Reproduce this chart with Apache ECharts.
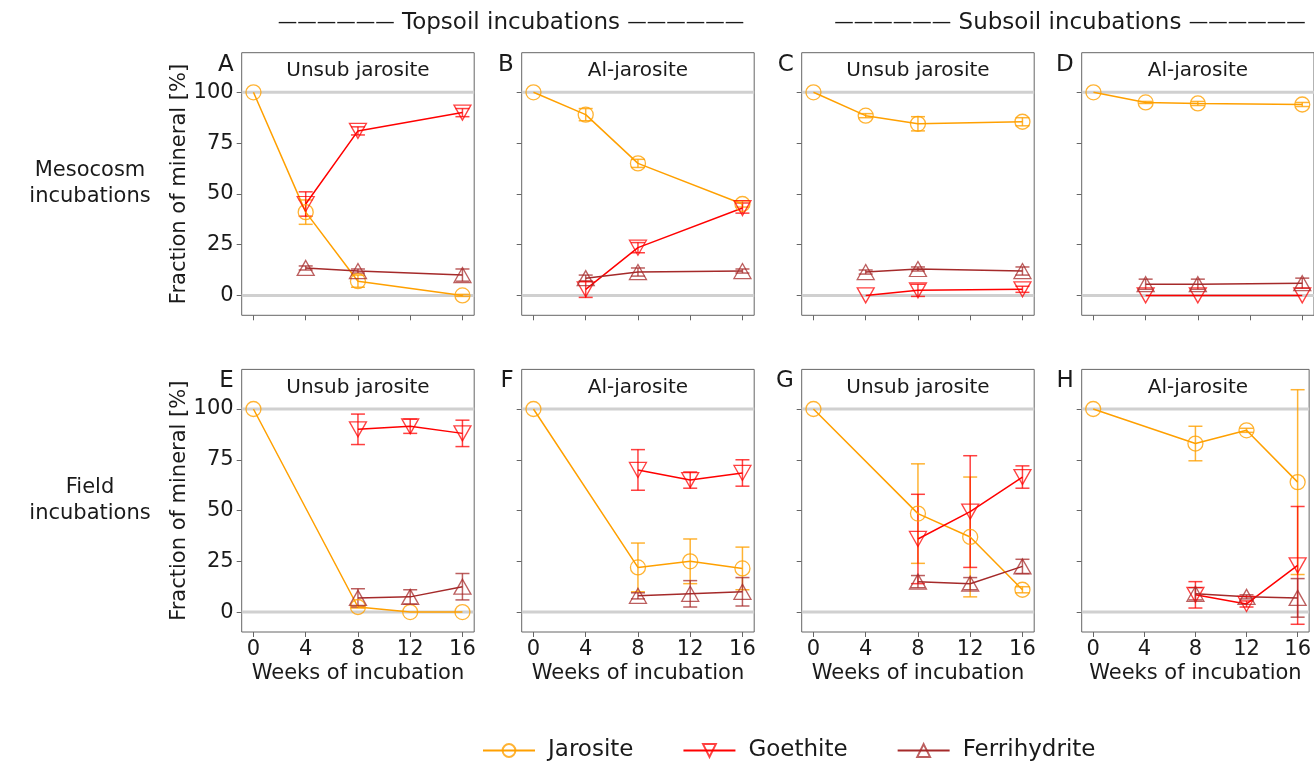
<!DOCTYPE html>
<html>
<head>
<meta charset="utf-8">
<script src="https://cdn.jsdelivr.net/npm/echarts@6/dist/echarts.min.js"></script>
<style>
html,body{margin:0;padding:0;background:#fff;}
#chart{width:1314px;height:761px;}
</style>
</head>
<body>
<div id="chart"></div>
<script>
// ---------------- DATA ----------------
const weeksMesocosm = [0, 4, 8, 16];
const weeksField = [0, 8, 12, 16];
const xTickLabels = [0, 4, 8, 12, 16];
const yTickLabels = [0, 25, 50, 75, 100];
const panelLetters = ['A', 'B', 'C', 'D', 'E', 'F', 'G', 'H'];
const panelTitles = ['Unsub jarosite', 'Al-jarosite', 'Unsub jarosite', 'Al-jarosite',
                     'Unsub jarosite', 'Al-jarosite', 'Unsub jarosite', 'Al-jarosite'];
const mineralNames = ['Jarosite', 'Goethite', 'Ferrihydrite'];
const headerLabels = ['Topsoil incubations', 'Subsoil incubations'];
const headerDashes = '——————';
const rowLabels = ['Mesocosm\nincubations', 'Field\nincubations'];

// one row per panel (A..H), values aligned with the weeks of that row
const jarositeMean = [
  [100, 41, 7, 0], [100, 89, 65, 45], [100, 88.5, 84.5, 85.5], [100, 95, 94.5, 94],
  [100, 2.5, 0, 0], [100, 22, 25, 21.5], [100, 48.5, 37, 11], [100, 83, 89.5, 64]
];
const jarositeErr = [
  [0, 6, 3, 0.5], [0, 3, 2, 1.5], [0, 1, 3.5, 2], [0, 0.5, 1, 1],
  [0, 0.5, 0, 0], [0, 12, 11, 10.5], [0, 24.5, 29.5, 1.5], [0, 8.5, 1, 45.5]
];
const goethiteMean = [
  [null, 45, 81, 90], [null, 3, 23.5, 43], [null, 0, 2.5, 3], [null, 0, 0, 0],
  [null, 90, 91.5, 88], [null, 70, 65, 68.5], [null, 36, 49.5, 66.5], [null, 8.5, 4, 23]
];
const goethiteErr = [
  [null, 6, 2, 2], [null, 4, 2.5, 2.5], [null, 0, 3, 1.5], [null, 0, 0, 0],
  [null, 7.5, 3.5, 6.5], [null, 10, 4, 6.5], [null, 22, 27.5, 5.5], [null, 6.5, 1.5, 29]
];
const ferrihydriteMean = [
  [null, 13.5, 12, 10], [null, 8.5, 11.5, 12], [null, 11.5, 13, 12], [null, 5.5, 5.5, 6],
  [null, 7, 7.5, 12.5], [null, 8, 9, 10], [null, 15, 14, 22.5], [null, 9, 7.5, 7]
];
const ferrihydriteErr = [
  [null, 1, 1, 3], [null, 1.5, 2, 1], [null, 1, 1, 2], [null, 2.5, 2.5, 2.5],
  [null, 4.5, 3.5, 6.5], [null, 1.5, 6.5, 7], [null, 3, 3, 3.5], [null, 3, 1, 9.5]
];
const referenceLevels = [0, 100];

// ---------------- LAYOUT / STYLE ----------------
const FONT = 'DejaVu Sans';
const colLeft = [241.7, 521.7, 801.7, 1081.7];
const rowTop = [52.7, 369.4];
const W = 232.5, H = 262.6;
const mineralStyle = [
  {line: '#ffa000', mark: 'rgba(255,160,0,0.8)', symbol: 'circle', size: 15, rot: 0},
  {line: '#ff0000', mark: 'rgba(255,0,0,0.75)', symbol: 'triangle', size: [17, 15], rot: 180},
  {line: '#a52a2a', mark: 'rgba(165,42,42,0.75)', symbol: 'triangle', size: [17, 15], rot: 0}
];
const means = [jarositeMean, goethiteMean, ferrihydriteMean];
const errs = [jarositeErr, goethiteErr, ferrihydriteErr];

const grids = [], xAxes = [], yAxes = [], series = [], graphics = [];

for (let p = 0; p < 8; p++) {
  const row = Math.floor(p / 4), col = p % 4;
  const weeks = row === 0 ? weeksMesocosm : weeksField;
  const left = colLeft[col], top = rowTop[row];
  grids.push({left: left, top: top, width: W, height: H, show: true,
    borderColor: '#666', borderWidth: 1, backgroundColor: 'transparent', containLabel: false});
  xAxes.push({
    type: 'value', gridIndex: p, min: -0.9, max: 16.9,
    axisLine: {show: false, onZero: false},
    axisTick: {show: true, length: 5, lineStyle: {color: '#666'}, customValues: xTickLabels},
    axisLabel: {show: row === 1, customValues: xTickLabels, fontFamily: FONT, fontSize: 21, color: '#1a1a1a', margin: 7},
    splitLine: {show: false},
    name: row === 1 ? 'Weeks of incubation' : '', nameLocation: 'middle', nameGap: 31,
    nameTextStyle: {fontFamily: FONT, fontSize: 21, color: '#1a1a1a'}
  });
  yAxes.push({
    type: 'value', gridIndex: p, min: -9.8, max: 119.5,
    axisLine: {show: false, onZero: false},
    axisTick: {show: true, length: 5, lineStyle: {color: '#666'}, customValues: yTickLabels},
    axisLabel: {show: col === 0, customValues: yTickLabels, fontFamily: FONT, fontSize: 21, color: '#1a1a1a', margin: 8},
    splitLine: {show: false},
    name: col === 0 ? 'Fraction of mineral [%]' : '', nameLocation: 'middle', nameGap: 51,
    nameTextStyle: {fontFamily: FONT, fontSize: 21, color: '#1a1a1a'}
  });

  // grey reference lines at 0 and 100
  series.push({
    type: 'custom', xAxisIndex: p, yAxisIndex: p, z: 1, silent: true,
    data: referenceLevels.map(v => [0, v]),
    renderItem: function (params, api) {
      const cs = params.coordSys;
      const y = api.coord([0, api.value(1)])[1];
      return {type: 'line', shape: {x1: cs.x, y1: y, x2: cs.x + cs.width, y2: y},
        style: {stroke: '#d0d0d0', lineWidth: 3}};
    }
  });

  for (let m = 0; m < 3; m++) {
    const st = mineralStyle[m];
    const mv = means[m][p], ev = errs[m][p];
    const pts = [], eb = [];
    weeks.forEach((w, i) => {
      if (mv[i] === null) return;
      pts.push([w, mv[i]]);
      if (ev[i] > 0) eb.push([w, mv[i], ev[i]]);
    });
    series.push({
      type: 'line', name: mineralNames[m], xAxisIndex: p, yAxisIndex: p, z: 3,
      data: pts, symbol: st.symbol, symbolSize: st.size, symbolRotate: st.rot,
      showAllSymbol: true, animation: false,
      lineStyle: {color: st.line, width: 1.5},
      itemStyle: {color: 'rgba(0,0,0,0)', borderColor: st.mark, borderWidth: 1.3},
      emphasis: {disabled: true}
    });
    series.push({
      type: 'custom', xAxisIndex: p, yAxisIndex: p, z: 3, silent: true,
      data: eb,
      renderItem: (function (color) {
        return function (params, api) {
          const x = api.value(0), v = api.value(1), e = api.value(2);
          const a = api.coord([x, v + e]), b = api.coord([x, v - e]);
          const c = 7;
          const s = {stroke: color, lineWidth: 1.5};
          return {type: 'group', children: [
            {type: 'line', shape: {x1: a[0], y1: a[1], x2: b[0], y2: b[1]}, style: s},
            {type: 'line', shape: {x1: a[0] - c, y1: a[1], x2: a[0] + c, y2: a[1]}, style: s},
            {type: 'line', shape: {x1: b[0] - c, y1: b[1], x2: b[0] + c, y2: b[1]}, style: s}
          ]};
        };
      })(st.mark)
    });
  }

  // panel title and letter
  graphics.push({type: 'text', x: left + W / 2, y: top + 18,
    style: {text: panelTitles[p], fontFamily: FONT, fontSize: 20, fill: '#1a1a1a', align: 'center', verticalAlign: 'middle'}});
  graphics.push({type: 'text', x: left - 8, y: top + 12,
    style: {text: panelLetters[p], fontFamily: FONT, fontSize: 23, fill: '#1a1a1a', align: 'right', verticalAlign: 'middle'}});
}

// headers (dashes drawn slightly smaller, as in the reference)
const headerX = [511, 1070];
headerLabels.forEach((h, i) => {
  graphics.push({type: 'text', x: headerX[i], y: 23,
    style: {text: '{d|' + headerDashes + '} ' + h + ' {d|' + headerDashes + '}',
      fontFamily: FONT, fontSize: 23, fill: '#1a1a1a', align: 'center', verticalAlign: 'middle',
      rich: {d: {fontFamily: FONT, fontSize: 19.5, fill: '#1a1a1a'}}}});
});
// row labels
graphics.push({type: 'text', x: 90, y: 184,
  style: {text: rowLabels[0], fontFamily: FONT, fontSize: 21, lineHeight: 26, fill: '#1a1a1a', align: 'center', verticalAlign: 'middle'}});
graphics.push({type: 'text', x: 90, y: 501,
  style: {text: rowLabels[1], fontFamily: FONT, fontSize: 21, lineHeight: 26, fill: '#1a1a1a', align: 'center', verticalAlign: 'middle'}});

const chart = echarts.init(document.getElementById('chart'), null, {renderer: 'canvas'});
chart.setOption({
  animation: false,
  backgroundColor: '#fff',
  grid: grids, xAxis: xAxes, yAxis: yAxes, series: series, graphic: graphics,
  legend: {
    data: mineralNames, left: 477, top: 734, itemWidth: 52, itemHeight: 16, itemGap: 49,
    textStyle: {fontFamily: FONT, fontSize: 23, color: '#1a1a1a', padding: [0, 0, 0, 8]},
    selectedMode: false
  }
});
</script>
</body>
</html>
